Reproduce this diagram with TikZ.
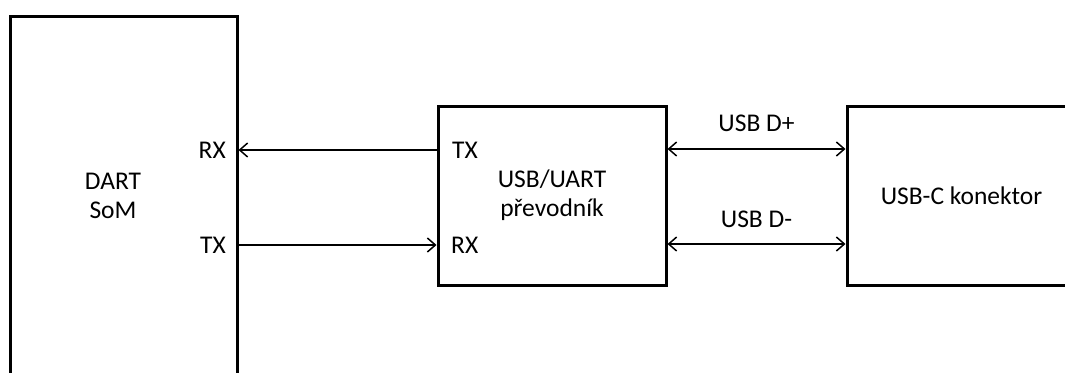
\documentclass[tikz,border=0pt]{standalone}
\usepackage{fontspec}
\setmainfont{Carlito}
\usepackage{tikz}
\usetikzlibrary{
    arrows.meta,
    positioning,
    calc
}

\begin{document}
\begin{tikzpicture}[x=1pt, y=-1pt,
    font=\fontsize{25.5}{29}\selectfont,
    >={Straight Barb[length=8pt, width=14pt]},
    block/.style={draw, line width=3pt, inner sep=0pt},
    sig/.style={line width=1.5pt},
    pin/.style={inner sep=0pt}]
    \useasboundingbox (0,0) rectangle (1065,372);
    \clip (0,0) rectangle (1065,372);
    % blocks
    \node[block, minimum width=227pt, minimum height=404pt] (som) at (123.5, 218) {};
    \node[block, minimum width=228pt, minimum height=179pt] (conv) at (552, 195.5) {};
    \node[block, minimum width=229pt, minimum height=179pt] (usbc) at (961.5, 195.5) {};
    % texts
    \node[align=center] (somtxt) at (113, 196) {DART\\SoM};
    \node[align=center] (convtxt) at (conv) {USB/UART\\převodník};
    \node (usbctxt) at (usbc) {USB-C konektor};
    \node[pin, anchor=east] (srx) at (226, 150) {RX};
    \node[pin, anchor=east] (stx) at (226, 245) {TX};
    \node[pin, anchor=west] (ctx) at (452, 150) {TX};
    \node[pin, anchor=west] (crx) at (451, 245) {RX};
    \coordinate (dp) at (750, 149);
    \coordinate (dm) at (750, 244);
    % signals
    \draw
    (conv.west |- ctx) edge[sig, ->] (som.east |- ctx)
    (som.east |- stx) edge[sig, ->] (conv.west |- stx)
    (conv.east |- dp) edge[sig, <->] node[midway, yshift=26pt] {USB D+} (usbc.west |- dp)
    (conv.east |- dm) edge[sig, <->] node[midway, yshift=25pt] {USB D-} (usbc.west |- dm);
\end{tikzpicture}
\end{document}
